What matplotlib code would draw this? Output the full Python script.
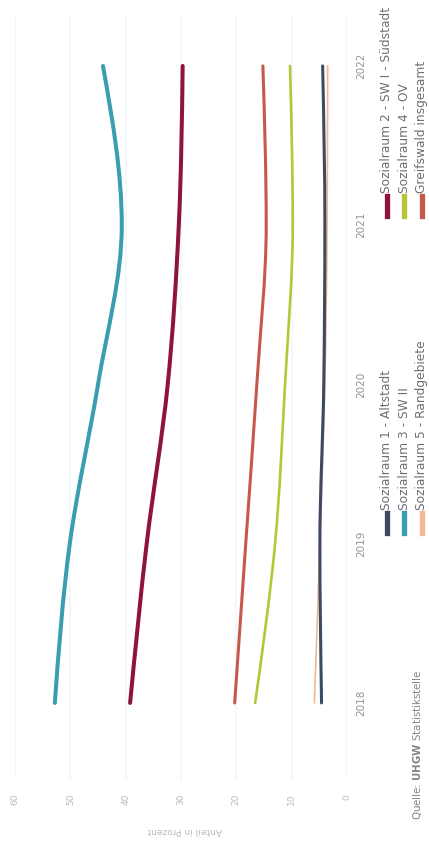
import numpy as np
import matplotlib
matplotlib.use("Agg")
import matplotlib.pyplot as plt
from matplotlib.path import Path
from matplotlib.patches import PathPatch
from matplotlib.lines import Line2D

# data (percent share per Sozialraum)
years = [2018, 2019, 2020, 2021, 2022]
series_names = [
    "Sozialraum 1 - Altstadt",
    "Sozialraum 2 - SW I - Südstadt",
    "Sozialraum 3 - SW II",
    "Sozialraum 4 - OV",
    "Sozialraum 5 - Randgebiete",
    "Greifswald insgesamt",
]
sr1 = [4.6, 4.9, 4.2, 4.0, 4.4]
sr2 = [39.2, 36.2, 32.4, 30.4, 29.7]
sr3 = [52.8, 50.1, 45.0, 40.7, 44.1]
sr4 = [16.6, 13.0, 11.2, 9.8, 10.3]
sr5 = [5.9, 4.9, 4.0, 3.6, 3.5]
total = [20.3, 18.3, 16.3, 14.6, 15.2]
pct_ticks = [0, 10, 20, 30, 40, 50, 60]

series = [sr1, sr2, sr3, sr4, sr5, total]
colors = ["#3d4a63", "#8e1538", "#3a9db0", "#b7c536", "#f2b893", "#c9584c"]
widths = [2.2, 2.9, 2.9, 1.9, 1.2, 2.2]
draw_order = [4, 0, 1, 2, 3, 5]

W, H = 429, 852


def fx(px):
    return px / W


def fy(py):
    return 1 - py / H


def monotone_path(xs, ys):
    # monotone cubic (like d3 curveMonotoneX) along the year direction
    xs = np.asarray(xs, float)
    ys = np.asarray(ys, float)
    h = np.diff(xs)
    s = np.diff(ys) / h
    n = len(xs)
    m = np.zeros(n)
    for i in range(1, n - 1):
        p = (s[i - 1] * h[i] + s[i] * h[i - 1]) / (h[i - 1] + h[i])
        m[i] = (np.sign(s[i - 1]) + np.sign(s[i])) * min(abs(s[i - 1]), abs(s[i]), 0.5 * abs(p))
    m[0] = (3 * s[0] - m[1]) / 2
    m[-1] = (3 * s[-1] - m[-2]) / 2
    verts = [(ys[0], xs[0])]
    codes = [Path.MOVETO]
    for i in range(n - 1):
        d = h[i] / 3
        verts += [(ys[i] + m[i] * d, xs[i] + d),
                  (ys[i + 1] - m[i + 1] * d, xs[i + 1] - d),
                  (ys[i + 1], xs[i + 1])]
        codes += [Path.CURVE4] * 3
    return Path(verts, codes)


fig = plt.figure(figsize=(W / 100, H / 100), dpi=100)
fig.patch.set_facecolor("white")

# axes rotated: percent runs right-to-left, years bottom-to-top
ax = fig.add_axes([fx(15), fy(780), (347 - 15) / W, (780 - 15) / H])
ax.set_xlim(60, 0)
ax.set_ylim(2017.516, 2022.32)
for sp in ax.spines.values():
    sp.set_visible(False)
ax.set_xticks(pct_ticks)
ax.set_xticklabels([str(t) for t in pct_ticks], rotation=90, color="#b5bcc4", fontsize=6.5)
ax.tick_params(axis="x", length=0, pad=10)
ax.yaxis.tick_right()
ax.set_yticks(years)
ax.set_yticklabels([str(y) for y in years], rotation=90, va="center", color="#8f949a", fontsize=7.5)
ax.tick_params(axis="y", length=0, pad=7)
ax.grid(axis="x", color="#f1f7fb", lw=1.2)
ax.set_axisbelow(True)

for i in draw_order:
    patch = PathPatch(monotone_path(years, series[i]), facecolor="none",
                      edgecolor=colors[i], lw=widths[i], capstyle="round")
    ax.add_patch(patch)

fig.text(fx(185), fy(830), "Anteil in Prozent", rotation=180, ha="center", va="center",
         color="#b5bcc4", fontsize=6.5)

# legend, 3 rows x 2 columns (rotated)
row_x = [387, 404, 422]
col_y = [533, 216]
for k, name in enumerate(series_names):
    r, c = k // 2, k % 2
    x0, y0 = row_x[r], col_y[c]
    fig.add_artist(Line2D([fx(x0), fx(x0)], [fy(y0), fy(y0 - 20)], color=colors[k], lw=3.8,
                          transform=fig.transFigure))
    fig.text(fx(x0), fy(y0 - 23), name, rotation=90, rotation_mode="anchor",
             ha="left", va="center", color="#6b7076", fontsize=8.8)

fig.text(fx(418), fy(820), "Quelle: $\\mathbf{UHGW}$ Statistikstelle", rotation=90,
         rotation_mode="anchor", ha="left", va="center", color="#80868c", fontsize=7.4)

fig.savefig("out.png", dpi=100)
